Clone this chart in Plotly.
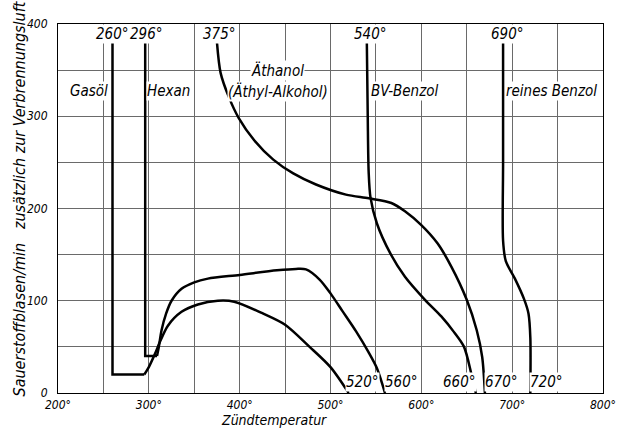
import plotly.graph_objects as go

# Zündtemperatur (°C) gegen Sauerstoffblasen/min, je Brennstoff
gasoel_x = [260, 260, 295, 300, 307, 312, 321, 336, 354, 376, 394, 426, 450, 477, 500, 520]
gasoel_y = [380, 20, 20, 28, 43, 55, 73, 88, 96, 100, 99, 86, 74, 50, 28, 0]

hexan_x = [296, 296, 309, 311, 314, 319, 325, 336, 350, 365, 400, 441, 462, 473, 488, 500, 513, 528, 542, 551, 560]
hexan_y = [380, 40, 40, 50, 68, 86, 100, 113, 120, 124, 128, 133, 134.5, 134, 123, 108, 89, 67, 44, 27, 0]

aethanol_x = [375, 379, 388, 399, 416, 437, 459, 484, 517, 542, 567, 582, 600, 618, 633, 650, 661, 667, 670]
aethanol_y = [380, 347, 321, 298, 274, 253, 238, 226, 215, 211, 206, 197, 182, 162, 137, 101, 68, 39, 0]

bv_benzol_x = [540, 541, 542, 544, 551, 566, 582, 604, 622, 636, 647, 655, 660]
bv_benzol_y = [380, 300, 240, 212, 184, 151, 126, 101, 83, 66, 50, 21, 0]

reinbenzol_x = [690, 690, 690, 693, 703, 713, 718, 720, 720]
reinbenzol_y = [380, 250, 165, 143, 124, 102, 86, 60, 0]

# Anzahl der Punkte, die als gerade Strecken (mit Ecken) gezeichnet werden
gasoel_corner = 3
hexan_corner = 3

top_labels = [(260, "260°"), (297, "296°"), (378, "375°"), (544, "540°"), (695, "690°")]
end_labels = [(535.5, "520°"), (578, "560°"), (642.5, "660°"), (688.5, "670°"), (737.5, "720°")]
name_labels = [
    (234.5, 327, "Gasöl"),
    (321.5, 327, "Hexan"),
    (442, 350, "Äthanol"),
    (442.5, 327, "(Äthyl-Alkohol)"),
    (582, 327, "BV-Benzol"),
    (743.5, 327, "reines\u00a0Benzol"),
]

x_ticks = list(range(200, 801, 50))
x_ticktext = [f"{v}°" if v % 100 == 0 else "" for v in x_ticks]
y_ticks = list(range(0, 401, 50))
y_ticktext = [str(v) if v % 100 == 0 else "" for v in y_ticks]

FONT = "Liberation Sans Narrow, DejaVu Sans Condensed, Arial Narrow, sans-serif"
LINE = dict(color="black", width=2.5)

fig = go.Figure()


def add_curve(xs, ys, corner=0):
    if corner:
        fig.add_trace(go.Scatter(x=xs[:corner], y=ys[:corner], mode="lines",
                                 line=dict(LINE, shape="linear"),
                                 showlegend=False, hoverinfo="skip"))
        xs, ys = xs[corner - 1:], ys[corner - 1:]
    fig.add_trace(go.Scatter(x=xs, y=ys, mode="lines",
                             line=dict(LINE, shape="spline", smoothing=0.8),
                             showlegend=False, hoverinfo="skip"))


add_curve(gasoel_x, gasoel_y, gasoel_corner)
add_curve(hexan_x, hexan_y, hexan_corner)
add_curve(aethanol_x, aethanol_y)
add_curve(bv_benzol_x, bv_benzol_y)
add_curve(reinbenzol_x, reinbenzol_y)

label_font = dict(family=FONT, size=15, color="black", style="italic")

for x, t in top_labels:
    fig.add_annotation(x=x, y=389, text=t, showarrow=False, font=label_font,
                       bgcolor="white", borderpad=0, xanchor="center", yanchor="middle")
for x, t in end_labels:
    fig.add_annotation(x=x, y=12, text=t, showarrow=False, font=label_font,
                       bgcolor="white", borderpad=0, xanchor="center", yanchor="middle")
for x, y, t in name_labels:
    fig.add_annotation(x=x, y=y, text=t, showarrow=False, font=label_font,
                       bgcolor="white", borderpad=0, xanchor="center", yanchor="middle")

# Achsentitel
fig.add_annotation(x=438, y=-0.074, xref="x", yref="paper", text="Zündtemperatur",
                   showarrow=False, font=dict(family=FONT, size=14, color="black", style="italic"),
                   xanchor="center", yanchor="middle")
fig.add_annotation(x=-0.071, y=0.528, xref="paper", yref="paper", textangle=-90,
                   text="Sauerstoffblasen/min\u00a0\u00a0\u00a0zusätzlich zur Verbrennungsluft",
                   showarrow=False, font=dict(family=FONT, size=16, color="black", style="italic"),
                   xanchor="center", yanchor="middle")

axis_common = dict(showgrid=True, gridcolor="#6a6a6a", gridwidth=1, zeroline=False,
                   showline=True, linecolor="black", linewidth=1.2, mirror=True,
                   ticks="", tickfont=dict(family=FONT, size=12, color="black", style="italic"))

fig.update_xaxes(range=[200, 800], tickmode="array", tickvals=x_ticks, ticktext=x_ticktext,
                 ticklabelstandoff=0, **axis_common)
fig.update_yaxes(range=[0, 400], tickmode="array", tickvals=y_ticks, ticktext=y_ticktext,
                 ticklabelstandoff=7, **axis_common)

fig.update_layout(width=628, height=429, margin=dict(l=58, r=17, t=24, b=36),
                  paper_bgcolor="white", plot_bgcolor="white", showlegend=False)

fig.write_html("out.html")
